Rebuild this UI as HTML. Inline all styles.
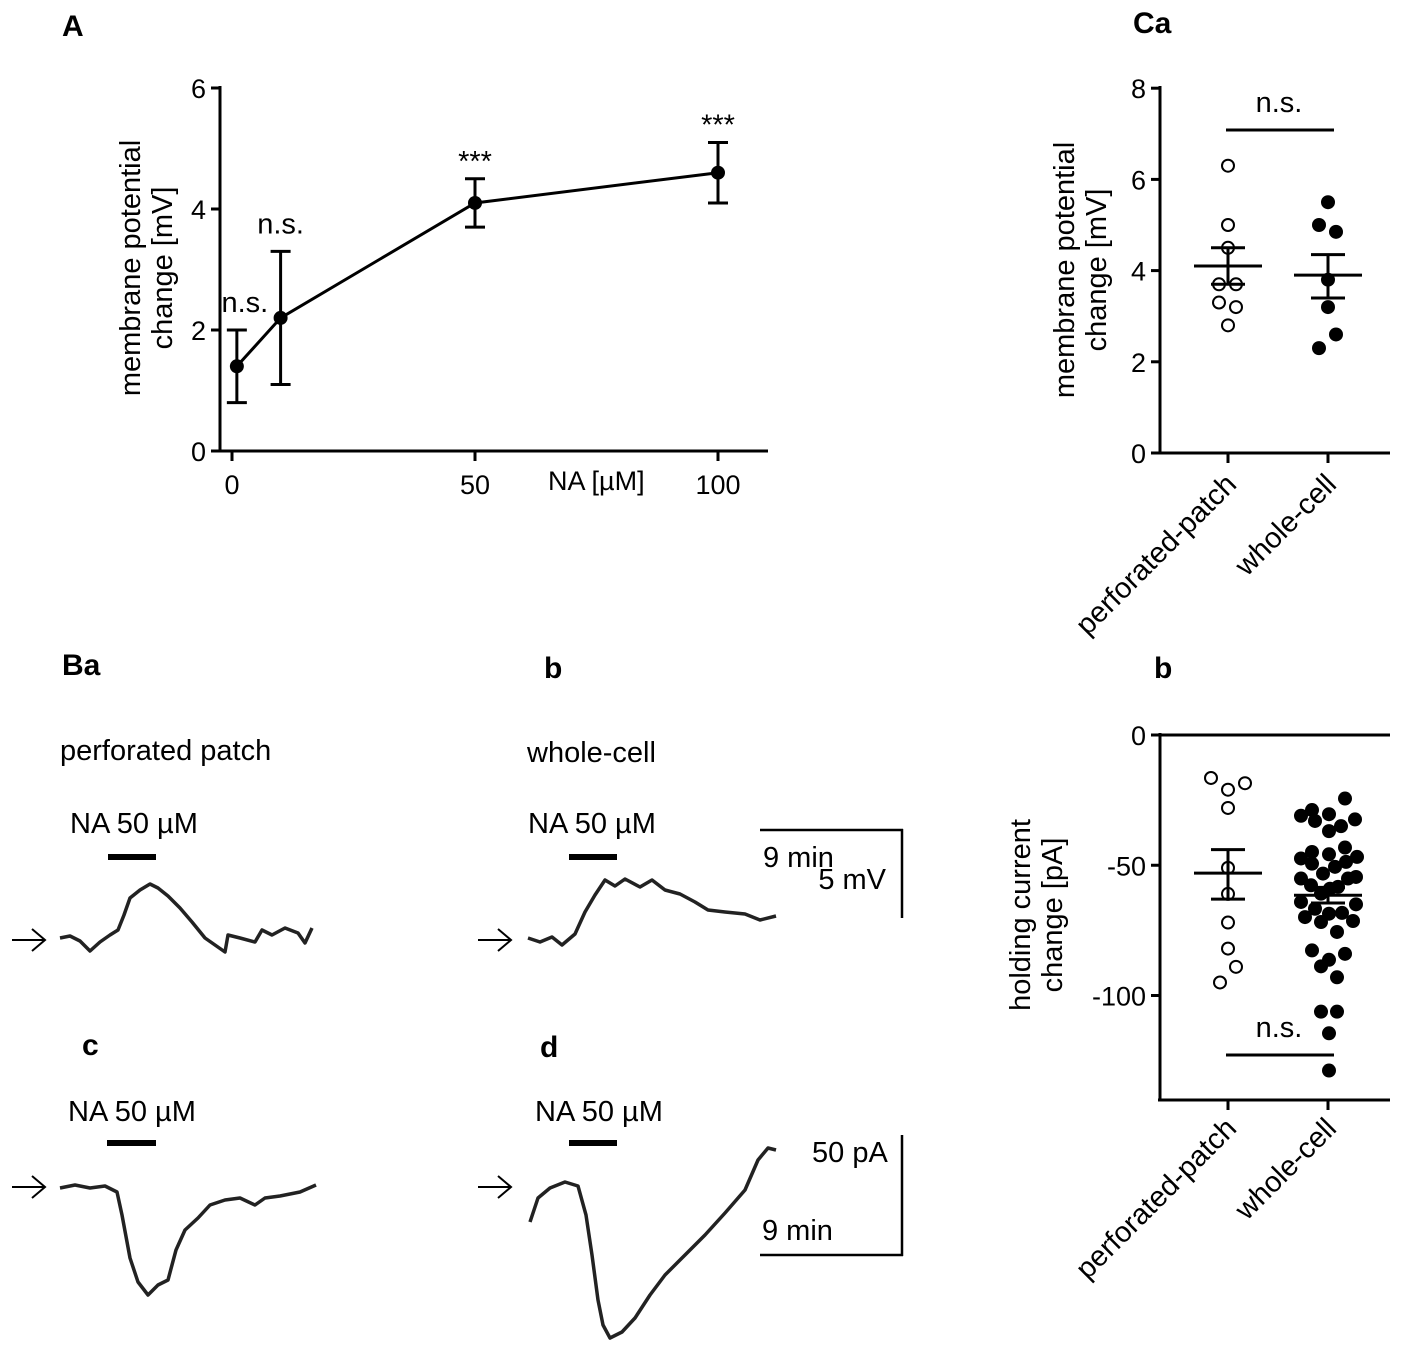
<!DOCTYPE html>
<html><head><meta charset="utf-8"><style>
html,body{margin:0;padding:0;background:#fff}
svg{display:block;font-family:"Liberation Sans",Arial,sans-serif}
</style></head><body>
<svg id="fig" width="1417" height="1368" viewBox="0 0 1417 1368" xmlns="http://www.w3.org/2000/svg">
<g font-weight="bold" font-size="30" fill="#000">
<text x="62" y="36">A</text>
<text x="1133" y="33">Ca</text>
<text x="62" y="675">Ba</text>
<text x="544" y="678">b</text>
<text x="1154" y="678">b</text>
<text x="82" y="1055">c</text>
<text x="540" y="1057">d</text>
</g>
<g id="A"></g>
<g id="Ca"></g>
<g id="Cb"></g>
<g id="B"></g>
</svg>
<script>
// ---- Panel A data
const aConc = [1, 10, 50, 100];
const aMean = [1.4, 2.2, 4.1, 4.6];
const aErr = [0.6, 1.1, 0.4, 0.5];
const aSig = ["n.s.", "n.s.", "***", "***"];
const aXTicks = [0, 50, 100];
const aYTicks = [0, 2, 4, 6];
// ---- Panel Ca data
const caPerf = [6.3, 5.0, 4.5, 3.7, 3.7, 3.3, 3.2, 2.8];
const caPerfDx = [0, 0, 0, -9, 8, -9, 8, 0];
const caWhole = [5.5, 5.0, 4.85, 3.8, 3.2, 2.6, 2.3];
const caWholeDx = [0, -9, 8, 0, 0, 8, -9];
const caPerfStats = [4.1, 4.5, 3.7];
const caWholeStats = [3.9, 4.35, 3.4];
const caYTicks = [0, 2, 4, 6, 8];
// ---- Panel Cb data
const cbPerf = [-16.5, -21, -18.5, -28, -51, -61, -72, -82, -89, -95];
const cbPerfDx = [-17, 0, 17, 0, 0, 0, 0, 0, 8, -8];
const cbWhole = [-24.4,-31,-28.8,-30.4,-33,-32.4,-35,-36.9,-43.2,-47.4,-44.9,-45.8,-46.8,-49.4,-50.6,-48.7,-53.2,-55.1,-55.1,-54.5,-57.7,-59,-58.3,-60.9,-64.1,-66.7,-68.6,-68.3,-65,-69.9,-71.8,-71.4,-75.6,-82.7,-86.3,-88.8,-84,-93,-106.2,-106.2,-114.5,-128.8];
const cbWholeDx = [17,-27,-16,1,-13,27,13,1,17,-27,-16,1,29,-16,7,18,-5,-27,20,28,-17,2,10,-7,-27,-13,1,14,28,-23,-7,25,9,-16,1,-7,17,9,-7,9,1,1];
const cbPerfStats = [-53, -44, -63];
const cbWholeStats = [-61.5, -58.5, -64.5];
const cbYTicks = [0, -50, -100];

const NS = "http://www.w3.org/2000/svg";
const FS = 29, TFS = 27;
function mk(parent, tag, attrs, text) {
  const e = document.createElementNS(NS, tag);
  for (const k in attrs) e.setAttribute(k, attrs[k]);
  if (text !== undefined) e.textContent = text;
  parent.appendChild(e);
  return e;
}
function ln(p, x1, y1, x2, y2, w) { return mk(p, "line", {x1, y1, x2, y2, stroke: "#000", "stroke-width": w || 3}); }

// ---------- Panel A
(function () {
  const g = document.getElementById("A");
  const x = v => 232 + v * 4.86;
  const y = v => 451 - v * 60.5;
  let e = ln(g, 220, 86, 220, 452);
  
  
  e = ln(g, 218, 451, 768, 451);
  
  
  aYTicks.forEach(t => {
    ln(g, 211, y(t), 220, y(t));
    const tx = mk(g, "text", {x: 206, y: y(t) + 10, "text-anchor": "end", "font-size": TFS}, t);
    
    
  });
  aXTicks.forEach(t => {
    ln(g, x(t), 451, x(t), 461);
    const tx = mk(g, "text", {x: x(t), y: 494, "text-anchor": "middle", "font-size": TFS}, t);
    
    
  });
  e = mk(g, "text", {x: 548, y: 490, "font-size": TFS}, "NA [µM]");
  
  
  const yt = mk(g, "text", {transform: "translate(148,268) rotate(-90)", "text-anchor": "middle", "font-size": FS});
  
  
  mk(yt, "tspan", {x: 0, dy: -8}, "membrane potential");
  mk(yt, "tspan", {x: 0, dy: 32}, "change [mV]");
  const pts = aConc.map((c, i) => x(c) + "," + y(aMean[i])).join(" ");
  e = mk(g, "polyline", {points: pts, fill: "none", stroke: "#000", "stroke-width": 3});
  
  
  aConc.forEach((c, i) => {
    const cx = x(c), t = y(aMean[i] + aErr[i]), b = y(aMean[i] - aErr[i]);
    ln(g, cx, t, cx, b); ln(g, cx - 10, t, cx + 10, t); ln(g, cx - 10, b, cx + 10, b);
    const d = mk(g, "circle", {cx, cy: y(aMean[i]), r: 7, fill: "#000"});
    
    
    const s = mk(g, "text", {x: cx + (i === 0 ? 8 : 0), y: t - 18 + (aSig[i] === "***" ? 10 : 0), "text-anchor": "middle", "font-size": FS}, aSig[i]);
    
    
  });
})();

function scatterPanel(gid, y, yTop, yBot, ticks, perf, perfDx, whole, wholeDx, ps, ws, nsY, labY, prefix) {
  const g = document.getElementById(gid);
  const xp = 1228, xw = 1328;
  let e = ln(g, 1160, yTop, 1160, yBot);
  
  
  ticks.forEach(t => {
    ln(g, 1151, y(t), 1160, y(t));
    const tx = mk(g, "text", {x: 1146, y: y(t) + 10, "text-anchor": "end", "font-size": TFS}, t);
    
    
  });
  [xp, xw].forEach(cx => ln(g, cx, yBot, cx, yBot + 9));
  perf.forEach((v, i) => {
    const c = mk(g, "circle", {cx: xp + perfDx[i], cy: y(v), r: 6, fill: "#fff", stroke: "#000", "stroke-width": 2});
    
    
  });
  whole.forEach((v, i) => {
    const c = mk(g, "circle", {cx: xw + wholeDx[i], cy: y(v), r: 7, fill: "#000"});
    
    
  });
  [[xp, ps], [xw, ws]].forEach(([cx, s]) => {
    ln(g, cx - 34, y(s[0]), cx + 34, y(s[0]));
    ln(g, cx, y(s[1]), cx, y(s[2]));
    ln(g, cx - 17, y(s[1]), cx + 17, y(s[1]));
    ln(g, cx - 17, y(s[2]), cx + 17, y(s[2]));
  });
  e = ln(g, 1226, nsY, 1334, nsY);
  
  
  e = mk(g, "text", {x: 1279, y: nsY - 18, "text-anchor": "middle", "font-size": FS}, "n.s.");
  
  
  e = mk(g, "text", {transform: `translate(${xp + 10},${labY}) rotate(-45)`, "text-anchor": "end", "font-size": FS}, "perforated-patch");
  
  
  e = mk(g, "text", {transform: `translate(${xw + 10},${labY}) rotate(-45)`, "text-anchor": "end", "font-size": FS}, "whole-cell");
  
  
  return g;
}

// ---------- Panel Ca
(function () {
  const y = v => 453 - v * 45.6;
  const g = scatterPanel("Ca", y, 86, 454, caYTicks, caPerf, caPerfDx, caWhole, caWholeDx, caPerfStats, caWholeStats, 130, 486, "ca");
  let e = ln(g, 1158, 453, 1390, 453);
  
  
  const yt = mk(g, "text", {transform: "translate(1082,270) rotate(-90)", "text-anchor": "middle", "font-size": FS});
  
  
  mk(yt, "tspan", {x: 0, dy: -8}, "membrane potential");
  mk(yt, "tspan", {x: 0, dy: 32}, "change [mV]");
})();

// ---------- Panel Cb
(function () {
  const y = v => 735 - v * 2.605;
  const g = scatterPanel("Cb", y, 733, 1101, cbYTicks, cbPerf, cbPerfDx, cbWhole, cbWholeDx, cbPerfStats, cbWholeStats, 1055, 1130, "cb");
  let e = ln(g, 1158, 735, 1390, 735);
  
  
  e = ln(g, 1158, 1100, 1390, 1100);
  
  
  const yt = mk(g, "text", {transform: "translate(1038,915) rotate(-90)", "text-anchor": "middle", "font-size": FS});
  
  
  mk(yt, "tspan", {x: 0, dy: -8}, "holding current");
  mk(yt, "tspan", {x: 0, dy: 32}, "change [pA]");
})();

// ---------- Panel B traces
const traceBa = [[60,938],[70,936],[80,941],[90,951],[100,942],[110,935],[118,930],[124,915],[130,898],[140,890],[150,884],[158,888],[168,896],[180,908],[192,922],[205,938],[215,945],[225,952],[228,935],[240,938],[255,942],[262,930],[272,935],[285,928],[298,933],[305,943],[312,928]];
const traceBb = [[528,938],[540,942],[552,937],[562,945],[575,934],[585,912],[595,895],[605,880],[615,886],[625,879],[640,887],[652,880],[665,890],[680,894],[695,902],[708,910],[725,912],[745,914],[760,920],[776,916]];
const traceBc = [[60,1188],[75,1185],[90,1188],[105,1186],[117,1192],[122,1215],[130,1258],[138,1282],[148,1295],[158,1285],[168,1280],[176,1250],[185,1230],[198,1218],[210,1205],[225,1200],[240,1198],[255,1205],[265,1198],[280,1196],[300,1192],[316,1185]];
const traceBd = [[530,1222],[538,1198],[550,1188],[565,1182],[578,1186],[586,1215],[592,1255],[598,1300],[603,1325],[610,1338],[622,1332],[635,1318],[650,1295],[665,1275],[685,1255],[705,1235],[725,1213],[745,1190],[758,1160],[768,1148],[776,1150]];
(function () {
  const g = document.getElementById("B");
  [[traceBa,'trace-ba'],[traceBb,'trace-bb'],[traceBc,'trace-bc'],[traceBd,'trace-bd']].forEach(([t, n]) => {
    const p = mk(g, "polyline", {points: t.map(q => q.join(",")).join(" "), fill: "none", stroke: "#222", "stroke-width": 3.5, "stroke-linejoin": "round"});
    
    
  });
  const texts = [[60,760,"perforated patch","start"],[527,762,"whole-cell","start"],[70,833,"NA 50 µM","start"],[528,833,"NA 50 µM","start"],[68,1121,"NA 50 µM","start"],[535,1121,"NA 50 µM","start"],[763,867,"9 min","start"],[886,889,"5 mV","end"],[812,1162,"50 pA","start"],[762,1240,"9 min","start"]];
  texts.forEach(([x, y, s, a]) => {
    const t = mk(g, "text", {x, y, "font-size": FS, "text-anchor": a}, s);
    
    
  });
  [[108,156,857],[569,617,857],[107,156,1143],[569,617,1143]].forEach(([a, b, yy]) => {
    const l = mk(g, "line", {x1: a, y1: yy, x2: b, y2: yy, stroke: "#000", "stroke-width": 6});
    
    
  });
  ln(g, 760, 830, 903, 830, 2.5); ln(g, 902, 829, 902, 918, 2.5);
  ln(g, 902, 1135, 902, 1256, 2.5); ln(g, 760, 1255, 903, 1255, 2.5);
  [[12,940],[12,1187],[478,940],[478,1187]].forEach(([x, y]) => {
    const a = mk(g, "path", {d: `M${x} ${y} H${x+33} M${x+20} ${y-11} L${x+33} ${y} L${x+20} ${y+11}`, fill: "none", stroke: "#000", "stroke-width": 2});
    
    
  });
})();
</script>
</body></html>
